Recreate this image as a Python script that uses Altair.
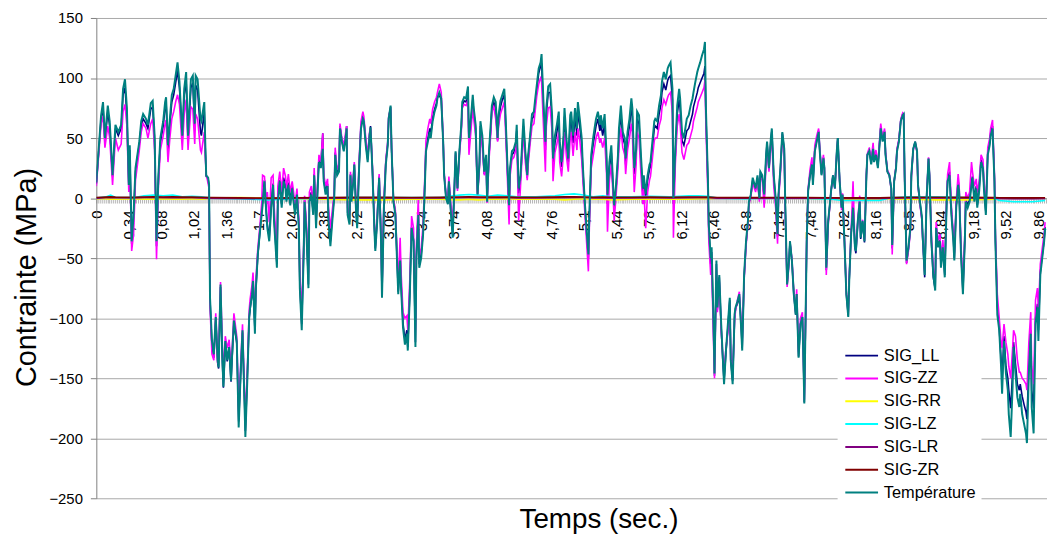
import altair as alt
import pandas as pd

FONT = "Liberation Sans"

# ---- main series (time in s, stress in MPa) ----
TIME = [
    0.00, 0.05, 0.07, 0.09, 0.12, 0.14, 0.17, 0.20, 0.23, 0.26,
    0.28, 0.30, 0.32, 0.34, 0.35, 0.37, 0.39, 0.41, 0.45, 0.47,
    0.49, 0.52, 0.54, 0.57, 0.59, 0.61, 0.63, 0.65, 0.67, 0.70,
    0.72, 0.73, 0.75, 0.77, 0.79, 0.81, 0.83, 0.85, 0.87, 0.90,
    0.92, 0.94, 0.96, 0.99, 1.01, 1.03, 1.04, 1.06, 1.09, 1.10,
    1.13, 1.14, 1.15, 1.17, 1.18, 1.19, 1.21, 1.23, 1.25, 1.27,
    1.28, 1.30, 1.32, 1.33, 1.35, 1.37, 1.39, 1.41, 1.42, 1.44,
    1.47, 1.49, 1.51, 1.53, 1.55, 1.56, 1.58, 1.60, 1.61, 1.63,
    1.64, 1.66, 1.67, 1.69, 1.71, 1.73, 1.74, 1.76, 1.78, 1.79,
    1.81, 1.83, 1.85, 1.86, 1.89, 1.90, 1.92, 1.94, 1.96, 1.98,
    1.99, 2.01, 2.03, 2.05, 2.06, 2.08, 2.10, 2.12, 2.13, 2.15,
    2.17, 2.18, 2.20, 2.22, 2.23, 2.25, 2.27, 2.28, 2.30, 2.32,
    2.33, 2.35, 2.37, 2.38, 2.40, 2.42, 2.43, 2.45, 2.47, 2.49,
    2.50, 2.52, 2.54, 2.55, 2.57, 2.59, 2.61, 2.62, 2.63, 2.65,
    2.66, 2.67, 2.69, 2.70, 2.72, 2.73, 2.75, 2.77, 2.79, 2.80,
    2.82, 2.84, 2.86, 2.87, 2.89, 2.91, 2.92, 2.94, 2.96, 2.98,
    2.99, 3.01, 3.03, 3.05, 3.06, 3.08, 3.09, 3.11, 3.13, 3.15,
    3.16, 3.18, 3.19, 3.21, 3.23, 3.25, 3.26, 3.28, 3.30, 3.32,
    3.34, 3.35, 3.37, 3.38, 3.40, 3.42, 3.44, 3.45, 3.47, 3.49,
    3.50, 3.52, 3.54, 3.56, 3.57, 3.59, 3.61, 3.63, 3.64, 3.66,
    3.68, 3.69, 3.71, 3.73, 3.75, 3.76, 3.78, 3.80, 3.82, 3.83,
    3.85, 3.87, 3.89, 3.90, 3.92, 3.94, 3.95, 3.97, 3.99, 4.01,
    4.02, 4.04, 4.06, 4.08, 4.09, 4.11, 4.13, 4.14, 4.16, 4.18,
    4.20, 4.21, 4.23, 4.25, 4.27, 4.28, 4.30, 4.32, 4.33, 4.35,
    4.37, 4.39, 4.40, 4.42, 4.44, 4.46, 4.47, 4.49, 4.51, 4.52,
    4.54, 4.56, 4.58, 4.59, 4.61, 4.63, 4.65, 4.66, 4.68, 4.70,
    4.71, 4.73, 4.75, 4.77, 4.78, 4.80, 4.82, 4.84, 4.85, 4.87,
    4.89, 4.90, 4.92, 4.94, 4.96, 4.97, 4.99, 5.01, 5.03, 5.04,
    5.06, 5.08, 5.09, 5.11, 5.13, 5.15, 5.16, 5.18, 5.20, 5.22,
    5.23, 5.25, 5.27, 5.28, 5.30, 5.32, 5.34, 5.35, 5.37, 5.39,
    5.41, 5.42, 5.44, 5.46, 5.47, 5.49, 5.51, 5.53, 5.54, 5.56,
    5.58, 5.60, 5.61, 5.63, 5.65, 5.66, 5.68, 5.70, 5.72, 5.73,
    5.75, 5.77, 5.79, 5.80, 5.82, 5.84, 5.85, 5.87, 5.89, 5.91,
    5.92, 5.94, 5.96, 5.98, 5.99, 6.01, 6.03, 6.04, 6.06, 6.08,
    6.10, 6.11, 6.13, 6.15, 6.17, 6.18, 6.20, 6.22, 6.24, 6.25,
    6.27, 6.29, 6.30, 6.32, 6.34, 6.36, 6.37, 6.38, 6.40, 6.41,
    6.43, 6.44, 6.46, 6.47, 6.49, 6.50, 6.52, 6.54, 6.56, 6.57,
    6.59, 6.61, 6.63, 6.64, 6.66, 6.68, 6.69, 6.71, 6.73, 6.75,
    6.76, 6.78, 6.80, 6.82, 6.83, 6.85, 6.87, 6.88, 6.90, 6.92,
    6.94, 6.95, 6.97, 6.99, 7.01, 7.02, 7.04, 7.06, 7.07, 7.09,
    7.11, 7.13, 7.14, 7.16, 7.18, 7.20, 7.21, 7.23, 7.25, 7.26,
    7.28, 7.30, 7.32, 7.33, 7.35, 7.37, 7.39, 7.40, 7.41, 7.425,
    7.435, 7.45, 7.47, 7.49, 7.50, 7.52, 7.54, 7.56, 7.57, 7.59,
    7.61, 7.62, 7.64, 7.66, 7.68, 7.69, 7.71, 7.73, 7.75, 7.76,
    7.78, 7.80, 7.81, 7.83, 7.85, 7.87, 7.88, 7.90, 7.92, 7.94,
    7.95, 7.97, 7.99, 8.00, 8.02, 8.04, 8.06, 8.07, 8.09, 8.11,
    8.13, 8.14, 8.16, 8.18, 8.19, 8.21, 8.23, 8.25, 8.26, 8.28,
    8.30, 8.32, 8.33, 8.35, 8.37, 8.38, 8.40, 8.42, 8.44, 8.45,
    8.46, 8.48, 8.50, 8.52, 8.53, 8.55, 8.57, 8.59, 8.60, 8.62,
    8.64, 8.65, 8.67, 8.69, 8.71, 8.72, 8.74, 8.76, 8.78, 8.79,
    8.81, 8.83, 8.84, 8.86, 8.88, 8.90, 8.91, 8.93, 8.95, 8.97,
    8.98, 9.00, 9.02, 9.03, 9.05, 9.07, 9.09, 9.10, 9.12, 9.14,
    9.16, 9.17, 9.19, 9.21, 9.22, 9.24, 9.26, 9.28, 9.29, 9.31,
    9.33, 9.35, 9.36, 9.38, 9.40, 9.41, 9.43, 9.45, 9.47, 9.48,
    9.50, 9.52, 9.54, 9.55, 9.57, 9.59, 9.60, 9.62, 9.64, 9.66,
    9.67, 9.69, 9.71, 9.73, 9.74, 9.76, 9.78, 9.79, 9.81, 9.83,
    9.85, 9.86, 9.88, 9.90, 9.92, 9.93,
]

TEMPERATURE = [
    13, 69, 80, 50, 77, 64, 19, 61, 55, 61,
    91, 99, 75, 11, 44, -36, -14, 25, 47, 64,
    70, 66, 61, 79, 81, 52, -36, 19, 50, 64,
    80, 84, 44, 66, 86, 91, 102, 113, 97, 52,
    91, 105, 52, 99, 102, 62, 102, 99, 66, 64,
    80, 47, 19, 17, 11, -83, -119, -130, -99, -135,
    -141, -72, -135, -157, -119, -135, -124, -152, -133, -102,
    -119, -191, -147, -110, -168, -199, -152, -99, -91, -80,
    -69, -113, -75, -47, -30, -14, -6, 14, -14, -25,
    -36, -8, 11, -19, -58, -3, 14, -8, 14, 8,
    -3, 11, -6, 8, 0, -14, 3, -25, -75, -110,
    -47, -3, -30, -75, -3, 3, -14, 19, -25, 14,
    30, 25, 41, 14, 3, 10, -19, -40, -19, 0,
    36, 19, 22, 58, 47, 39, 50, 58, -14, -22,
    19, -3, 14, 28, -14, -25, 25, 58, 66, 64,
    44, 30, 52, 59, 22, -25, -44, -19, 17, -36,
    -83, -8, 28, 44, 66, 77, 41, -3, -14, -58,
    -80, -52, -75, -108, -122, -113, -127, -83, -25, -36,
    -124, -50, -14, -58, -50, -30, 14, 39, 47, 55,
    50, 64, 72, 77, 83, 88, 83, 47, 19, 0,
    -5, 14, -11, -33, 14, 39, 8, 39, 61, 80,
    84, 83, 93, 50, 66, 86, 75, 61, 3, 30,
    64, 52, 22, 36, -3, 39, 64, 77, 84, 80,
    50, 69, 81, 86, 91, 75, 33, -6, 25, 39,
    41, 47, 61, 8, 19, 50, 66, 39, 19, 36,
    52, 70, 72, 80, 94, 108, 113, 120, 80, 47,
    75, 93, 95, 69, 33, 52, 61, 72, 47, 30,
    52, 75, 50, 33, 69, 72, 52, 75, 58, 80,
    66, 50, 30, 0, -25, -47, -14, 36, 50, 61,
    66, 72, 61, 69, 58, 70, 36, 3, 30, 44,
    8, -6, 11, 36, 58, 77, 55, 50, 33, 55,
    66, 83, 75, 25, 41, 72, 69, 36, 8, 19,
    3, 19, 28, 30, 47, 64, 66, 64, 77, 86,
    97, 105, 99, 108, 110, 113, 91, 0, 41, 77,
    91, 83, 55, 50, 61, 66, 69, 77, 83, 88,
    97, 105, 108, 113, 119, 124, 130, 75, 19, -22,
    -50, -41, -105, -146, -52, -91, -64, -105, -138, -155,
    -127, -105, -83, -135, -155, -97, -91, -86, -80, -110,
    -127, -64, -36, -19, -3, 3, 17, 14, 8, 19,
    0, 22, 19, 3, 36, 47, 25, 50, 58, 19,
    0, -30, 3, 25, 55, 41, -3, -72, -52, -36,
    -52, -80, -97, -80, -133, -105, -99, -133, -171, -91,
    -36, 6, 19, 28, 11, 39, 47, 55, 41, 19,
    33, 25, -58, -19, -3, 6, 19, 8, 39, 50,
    14, -8, 3, -36, -80, -99, -69, -30, -8, -41,
    -44, -19, -3, -33, -19, -36, 19, 36, 39, 28,
    41, 30, 36, 25, 36, 58, 47, 55, 36, 22,
    19, 8, -39, 14, 25, 39, 47, 64, 69, 70,
    19, -52, -41, -25, 19, 41, 47, 39, 11, -3,
    -15, -33, -64, 0, 33, 19, -36, -64, -77, -25,
    -41, -36, -58, -41, -66, -3, 14, 19, -14, -36,
    -52, -8, 11, 6, -47, -80, -36, -3, -8, -3,
    11, 17, -3, 8, -8, 6, 30, 25, 8, -14,
    36, 44, 52, 58, 14, -36, -97, -110, -141, -163,
    -119, -146, -160, -180, -199, -157, -124, -146, -166, -174,
    -163, -180, -188, -196, -204, -146, -113, -174, -196, -105,
    -91, -119, -64, -50, -36, -25,
]

SIG_LL = [
    12, 66, 76, 48, 72, 60, 18, 58, 52, 58,
    86, 92, 70, 10, 40, -38, -16, 22, 45, 60,
    66, 62, 58, 74, 76, 48, -40, 16, 46, 60,
    76, 80, 40, 62, 80, 86, 96, 106, 92, 50,
    86, 98, 50, 92, 96, 58, 94, 90, 55, 52,
    72, 42, 18, 16, 10, -85, -122, -133, -100, -137,
    -142, -74, -138, -158, -121, -136, -125, -153, -135, -104,
    -121, -186, -148, -112, -166, -194, -150, -100, -92, -80,
    -70, -110, -76, -48, -30, -12, -2, 15, -12, -22,
    -33, -5, 12, -15, -55, 0, 15, -5, 17, 10,
    0, 13, -3, 10, 2, -12, 4, -23, -72, -105,
    -45, -2, -28, -72, -1, 5, -12, 20, -22, 16,
    32, 27, 54, 16, 5, 12, -16, -36, -16, 2,
    38, 20, 24, 60, 48, 40, 52, 60, -12, -20,
    20, -1, 15, 28, -12, -22, 26, 60, 68, 65,
    46, 32, 53, 60, 24, -24, -42, -18, 18, -35,
    -80, -6, 30, 45, 67, 76, 42, -2, -12, -56,
    -78, -48, -72, -104, -118, -110, -124, -80, -24, -35,
    -120, -48, -12, -55, -47, -28, 16, 41, 50, 58,
    53, 67, 74, 79, 84, 86, 82, 48, 20, 1,
    -4, 14, -10, -30, 14, 38, 8, 38, 58, 77,
    81, 80, 88, 45, 62, 82, 72, 58, 3, 28,
    60, 48, 20, 32, -2, 36, 60, 74, 80, 74,
    48, 64, 76, 82, 86, 70, 30, -8, 22, 36,
    38, 44, 56, 4, 16, 46, 60, 36, 17, 33,
    50, 66, 68, 76, 90, 104, 110, 112, 72, 40,
    70, 88, 88, 64, 28, 46, 55, 66, 42, 26,
    48, 68, 45, 30, 62, 66, 46, 68, 52, 72,
    60, 45, 26, -2, -28, -50, -18, 32, 45, 55,
    60, 66, 56, 62, 52, 62, 30, -5, 25, 38,
    5, -10, 8, 32, 52, 70, 50, 45, 28, 50,
    60, 76, 68, 20, 36, 66, 62, 30, 4, 15,
    0, 15, 24, 26, 42, 58, 60, 58, 70, 78,
    88, 95, 90, 98, 100, 102, 82, -5, 36, 70,
    82, 75, 48, 44, 52, 56, 58, 64, 70, 76,
    82, 88, 92, 96, 100, 104, 110, 70, 15, -25,
    -55, -45, -110, -148, -55, -93, -66, -108, -140, -152,
    -128, -108, -85, -135, -152, -100, -92, -88, -82, -108,
    -125, -66, -38, -20, -4, 2, 15, 12, 7, 17,
    -1, 20, 17, 1, 34, 46, 24, 48, 56, 18,
    -2, -32, 2, 24, 54, 40, -5, -72, -52, -36,
    -52, -80, -97, -80, -132, -105, -99, -133, -170, -92,
    -36, 6, 20, 30, 12, 40, 48, 56, 42, 20,
    34, 25, -60, -20, -3, 6, 19, 8, 39, 50,
    14, -8, 3, -36, -80, -98, -68, -30, -6, -42,
    -46, -20, -3, -34, -20, -37, 19, 36, 40, 29,
    42, 31, 37, 26, 37, 59, 48, 56, 37, 22,
    19, 8, -42, 14, 26, 40, 48, 65, 70, 70,
    18, -54, -42, -26, 18, 41, 47, 39, 11, -4,
    -17, -36, -66, 0, 33, 19, -36, -66, -76, -24,
    -40, -35, -56, -40, -64, -2, 15, 22, -12, -34,
    -50, -6, 14, 8, -45, -78, -34, -1, -6, -1,
    14, 18, 0, 10, -6, 8, 32, 27, 10, -12,
    38, 46, 54, 60, 16, -34, -90, -108, -135, -150,
    -115, -140, -150, -160, -175, -145, -120, -138, -155, -160,
    -155, -165, -172, -178, -184, -140, -110, -160, -175, -100,
    -88, -110, -62, -48, -35, -24,
]

SIG_ZZ = [
    10, 62, 68, 42, 60, 50, 11, 50, 40, 45,
    72, 78, 60, 5, 30, -44, -30, 15, 40, 55,
    62, 58, 50, 62, 66, 40, -51, 10, 40, 52,
    62, 65, 30, 50, 66, 72, 80, 86, 78, 40,
    70, 82, 40, 76, 74, 45, 70, 66, 40, 38,
    55, 36, 20, 12, 8, -90, -130, -135, -96, -138,
    -130, -70, -125, -145, -115, -125, -118, -140, -128, -96,
    -115, -176, -140, -105, -158, -184, -145, -93, -84, -72,
    -62, -100, -68, -42, -25, -5, 19, 18, -5, 5,
    -20, 17, 19, -5, -48, 10, 22, 5, 25, 18,
    8, 20, 5, 14, 8, -5, 8, -18, -65, -95,
    -40, 2, -22, -62, 5, 10, -6, 25, -15, 20,
    36, 30, 54, 20, 10, 16, -8, -25, -10, 5,
    42, 24, 28, 62, 50, 44, 55, 60, -8, -15,
    22, 3, 18, 30, -8, -18, 30, 64, 72, 68,
    50, 36, 55, 58, 26, -20, -40, -15, 20, -30,
    -75, -2, 32, 47, 68, 74, 42, 0, -10, -50,
    -70, -33, -62, -95, -100, -98, -110, -70, -15, -25,
    -110, -40, 0, -48, -42, -22, 22, 48, 58, 66,
    62, 74, 80, 84, 88, 95, 88, 50, 22, 3,
    0, 18, -5, -20, 12, 36, 6, 35, 55, 75,
    78, 77, 82, 36, 55, 76, 66, 52, 2, 25,
    55, 42, 19, 28, -4, 32, 55, 72, 76, 66,
    47, 60, 70, 75, 80, 62, 22, -22, 18, 32,
    34, 40, 50, -19, 10, 40, 55, 30, 15, 28,
    45, 60, 62, 70, 85, 95, 100, 98, 60, 22,
    60, 75, 76, 55, 14, 38, 45, 55, 30, 18,
    38, 55, 35, 22, 50, 55, 35, 55, 40, 58,
    48, 32, 18, -8, -35, -61, -25, 25, 35, 45,
    50, 55, 46, 50, 42, 50, 20, -28, 15, 28,
    0, -19, 2, 25, 42, 58, 42, 36, 20, 40,
    50, 62, 55, 5, 28, 55, 50, 20, -5, 8,
    -25, 5, 15, 18, 33, 48, 50, 50, 60, 66,
    75, 82, 78, 84, 86, 88, 70, -33, 28, 60,
    70, 62, 38, 32, 40, 44, 46, 52, 58, 64,
    70, 76, 80, 84, 88, 92, 98, 60, 5, -35,
    -64, -55, -120, -150, -60, -95, -70, -110, -135, -145,
    -125, -112, -88, -130, -148, -102, -94, -85, -78, -104,
    -118, -68, -40, -22, -5, 1, 12, 10, 5, 14,
    -3, 17, 15, -8, 30, 43, 22, 45, 50, 10,
    -8, -38, -2, 20, 52, 38, -10, -74, -54, -38,
    -50, -78, -95, -76, -128, -100, -95, -130, -168, -90,
    -34, 8, 24, 34, 16, 44, 52, 58, 44, 22,
    36, 26, -64, -22, -4, 6, 18, 8, 38, 48,
    14, -10, 4, -34, -78, -95, -66, -28, 14, -40,
    -44, -18, 2, -32, -18, -35, 20, 37, 42, 32,
    46, 34, 40, 28, 40, 62, 50, 58, 38, 23,
    20, 6, -47, 13, 27, 41, 49, 66, 71, 70,
    16, -55, -44, -28, 17, 40, 46, 38, 10, -5,
    -18, -35, -60, 2, 34, 20, -32, -58, -70, -20,
    -35, -30, -50, -35, -58, 2, 20, 30, -8, -30,
    -46, -2, 20, 12, -40, -72, -30, 5, 0, 5,
    30, 22, 10, 16, 5, 14, 36, 32, 14, -8,
    42, 50, 58, 65, 20, -30, -80, -100, -120, -125,
    -105, -120, -130, -140, -150, -125, -110, -115, -135, -145,
    -145, -150, -152, -155, -160, -120, -95, -140, -155, -85,
    -75, -95, -55, -42, -30, -20,
]

# ---- near-zero series ----
SMALL_TIME = [
    0.0, 0.1, 0.15, 0.2, 0.4, 0.5, 0.6, 0.7, 0.8, 0.9,
    1.0, 1.1, 1.2, 1.5, 1.8, 2.1, 2.4, 2.7, 3.0, 3.3,
    3.6, 3.8, 3.9, 4.0, 4.1, 4.2, 4.3, 4.4, 4.6, 4.8,
    4.9, 5.0, 5.1, 5.2, 5.3, 5.4, 5.6, 5.8, 6.0, 6.2,
    6.3, 6.4, 6.5, 6.8, 7.1, 7.4, 7.7, 7.8, 8.0, 8.2,
    8.3, 8.5, 8.8, 9.1, 9.4, 9.45, 9.6, 9.8, 9.93,
]
SIG_RR = [
    -0.5, -0.5, -1, -1, -0.5, -1, -1, -0.5, -1, -1,
    -0.5, -1, 0, 0.5, 0, -0.5, -1, -1.5, -1.5, -1,
    -1, -1.5, -1, -1.5, -1, -1, -0.5, -1, -1, -1,
    -1.5, -1, -0.5, -1, -1, -1.5, -1, -1, -1, -1,
    -0.5, -0.5, 0, 0, 0, 0, -0.5, -1, -1, -0.5,
    -0.5, -1, -1.5, -1.5, -1, 0, 0, 0, 0,
]
SIG_LZ = [
    0, 1, 2.5, 0.5, 0.5, 2, 2.5, 2, 2.5, 1,
    1.5, 1, 0, -0.5, -1.5, -0.5, 0, 0.5, 0.5, 0.5,
    0.5, 2.5, 3, 2.5, 1.5, 2.5, 2, 1, 1, 2,
    3, 3.5, 2.5, 1, 2, 1, 1, 1.5, 1, 2,
    2, 1.5, 0, -0.5, 0, 0, -1, -2, -2, -2,
    0, 1, 1, 0.5, 0, -2, -3, -3, -2,
]
SIG_LR = [
    0, 0.3, 0.5, 0.3, 0.2, 0.5, 0.5, 0.4, 0.5, 0.3,
    0.3, 0.2, 0, -0.3, -0.5, -0.2, 0, 0.2, 0.2, 0.1,
    0.2, 0.5, 0.6, 0.5, 0.3, 0.5, 0.4, 0.2, 0.2, 0.4,
    0.6, 0.7, 0.5, 0.2, 0.4, 0.2, 0.2, 0.3, 0.2, 0.4,
    0.4, 0.3, 0, -0.1, 0, 0, -0.2, -0.4, -0.4, -0.4,
    0, 0.2, 0.2, 0.1, 0, -0.4, -0.6, -0.6, -0.4,
]
SIG_ZR = [
    0.5, 0.8, 1, 0.8, 0.7, 0.9, 1, 0.9, 1, 0.8,
    0.8, 0.7, 0.5, 0.2, 0, 0.3, 0.5, 0.6, 0.6, 0.5,
    0.6, 0.9, 1, 0.9, 0.8, 0.9, 0.8, 0.7, 0.7, 0.8,
    1, 1.1, 0.9, 0.7, 0.8, 0.7, 0.7, 0.8, 0.7, 0.9,
    0.9, 0.8, 0.5, 0.4, 0.5, 0.5, 0.3, 0.2, 0.2, 0.2,
    0.5, 0.7, 0.7, 0.6, 0.5, 0.3, 0.2, 0.2, 0.3,
]

SERIES = ["SIG_LL", "SIG-ZZ", "SIG-RR", "SIG-LZ", "SIG-LR", "SIG-ZR", "Température"]
COLORS = ["#000080", "#FF00FF", "#FFFF00", "#00FFFF", "#800080", "#800000", "#008080"]

X_LABELS = [0, 0.34, 0.68, 1.02, 1.36, 1.7, 2.04, 2.38, 2.72, 3.06,
            3.4, 3.74, 4.08, 4.42, 4.76, 5.1, 5.44, 5.78, 6.12, 6.46,
            6.8, 7.14, 7.48, 7.82, 8.16, 8.5, 8.84, 9.18, 9.52, 9.86]
Y_TICKS = [-250, -200, -150, -100, -50, 0, 50, 100, 150]
CATEGORY_TICKS = [round(i * 0.02, 2) for i in range(498)]

for arr in (TEMPERATURE, SIG_LL, SIG_ZZ):
    assert len(arr) == len(TIME), (len(arr), len(TIME))
for arr in (SIG_RR, SIG_LZ, SIG_LR, SIG_ZR):
    assert len(arr) == len(SMALL_TIME), (len(arr), len(SMALL_TIME))

pairs = {
    "SIG_LL": (TIME, SIG_LL),
    "SIG-ZZ": (TIME, SIG_ZZ),
    "SIG-RR": (SMALL_TIME, SIG_RR),
    "SIG-LZ": (SMALL_TIME, SIG_LZ),
    "SIG-LR": (SMALL_TIME, SIG_LR),
    "SIG-ZR": (SMALL_TIME, SIG_ZR),
    "Température": (TIME, TEMPERATURE),
}
rows = []
for name in SERIES:
    tt, vv = pairs[name]
    rows += [{"t": a, "v": b, "s": name} for a, b in zip(tt, vv)]
df = pd.DataFrame(rows)

W, H = 958, 484
ZERO_OFFSET = -H * 250 / 400

x_scale = alt.Scale(domain=[0, 9.95], nice=False, zero=False)
y_scale = alt.Scale(domain=[-250, 150], nice=False, zero=False)

y_axis = alt.Axis(
    values=Y_TICKS, grid=True, gridColor="#a8a8a8", gridWidth=1,
    domainColor="#808080", tickColor="#808080", tickSize=6,
    labelPadding=8, labelFont=FONT, labelFontSize=15, labelColor="#000000",
    title="Contrainte (MPa)", titleFont=FONT, titleFontSize=29,
    titleFontWeight="normal", titleColor="#000000", titleAngle=270,
    titleBaseline="alphabetic", titleAlign="center", titleX=-61, titleY=261,
)

axis_labels = alt.Axis(
    values=X_LABELS, orient="bottom", offset=ZERO_OFFSET, labelAngle=270,
    labelExpr="replace(toString(datum.value), '.', ',')",
    labelFont=FONT, labelFontSize=15, labelColor="#000000", labelPadding=12,
    labelOverlap=False, labelFlush=False, labelBound=False, ticks=False,
    domain=True, domainColor="#909090", grid=False,
)
axis_minor = alt.Axis(
    values=CATEGORY_TICKS, orient="bottom", offset=ZERO_OFFSET, labels=False,
    domain=False, grid=False, ticks=True, tickSize=5, tickColor="#b4b4b4",
    tickWidth=1,
)
axis_title = alt.Axis(
    orient="bottom", labels=False, ticks=False, domain=False, grid=False,
    title="Temps (sec.)", titleFont=FONT, titleFontSize=28,
    titleFontWeight="normal", titleColor="#000000", titleX=506, titleY=29,
    titleBaseline="alphabetic", titleAlign="center",
)

legend = alt.Legend(
    title=None, orient="none", legendX=747, legendY=327, fillColor="white",
    padding=5, symbolType="M-1,0H5", symbolSize=121, symbolStrokeWidth=2,
    labelFont=FONT, labelFontSize=16.5, labelColor="#000000", labelOffset=25,
    rowPadding=6, direction="vertical",
)
color = alt.Color("s:N", scale=alt.Scale(domain=SERIES, range=COLORS), legend=legend)

base = alt.Chart(df)
layers = []
for i, name in enumerate(SERIES):
    if i == 0:
        xa = axis_labels
    elif i == 1:
        xa = axis_minor
    elif i == 2:
        xa = axis_title
    else:
        xa = None
    xenc = alt.X("t:Q", scale=x_scale, axis=xa, title=None if i != 2 else "Temps (sec.)")
    sw = 2 if name == "Température" else 1.6
    layers.append(
        base.transform_filter(alt.datum.s == name)
        .mark_line(strokeWidth=sw, clip=True)
        .encode(
            x=xenc,
            y=alt.Y("v:Q", scale=y_scale, axis=y_axis, title="Contrainte (MPa)"),
            color=color,
        )
    )

chart = (
    alt.layer(*layers)
    .resolve_axis(x="independent")
    .properties(
        width=W, height=H,
        autosize=alt.AutoSizeParams(type="none"),
        padding={"left": 89, "top": 8, "right": 0, "bottom": 41},
    )
    .configure(font=FONT)
    .configure_view(strokeWidth=0)
)

chart.save("out.html", embed_options={"renderer": "svg", "actions": False})
